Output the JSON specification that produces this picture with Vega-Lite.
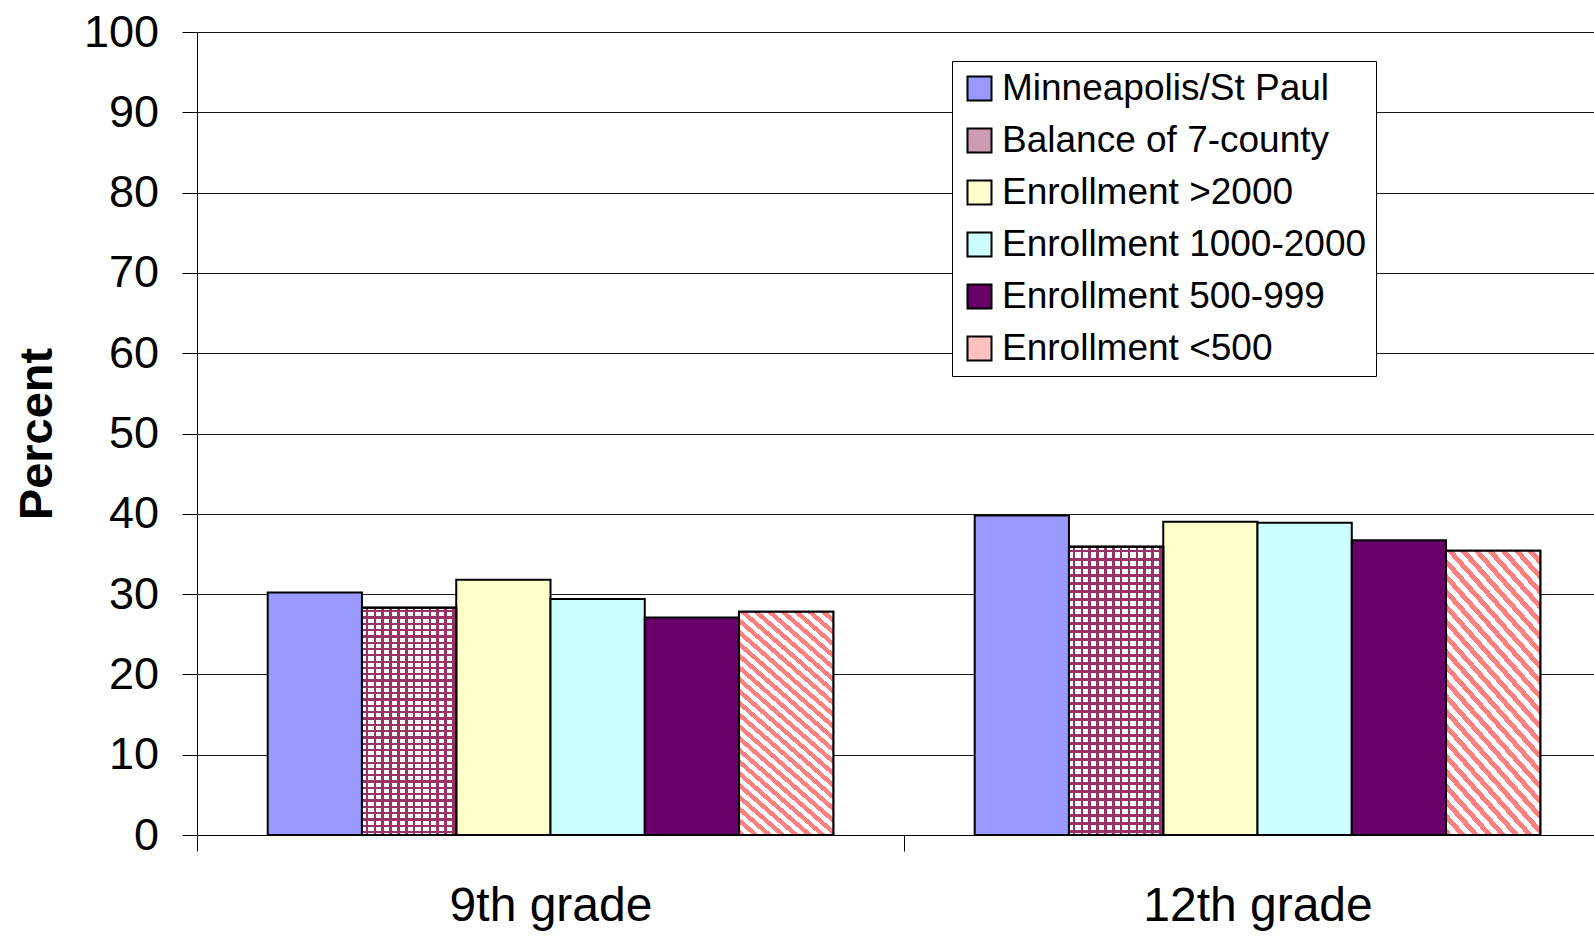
{
 "$schema": "https://vega.github.io/schema/vega-lite/v6.json",
 "width": 1397, "height": 803,
 "autosize": {"type": "none"},
 "padding": {"left": 197, "top": 32, "right": 0, "bottom": 101},
 "background": "white",
 "config": {"font": "Liberation Sans", "view": {"stroke": null}},
 "data": {"values": [
  {"grade": "9th grade", "series": "Minneapolis/St Paul", "value": 30.2},
  {"grade": "9th grade", "series": "Balance of 7-county", "value": 28.3},
  {"grade": "9th grade", "series": "Enrollment >2000", "value": 31.8},
  {"grade": "9th grade", "series": "Enrollment 1000-2000", "value": 29.4},
  {"grade": "9th grade", "series": "Enrollment 500-999", "value": 27.1},
  {"grade": "9th grade", "series": "Enrollment <500", "value": 27.8},
  {"grade": "12th grade", "series": "Minneapolis/St Paul", "value": 39.8},
  {"grade": "12th grade", "series": "Balance of 7-county", "value": 35.9},
  {"grade": "12th grade", "series": "Enrollment >2000", "value": 39.0},
  {"grade": "12th grade", "series": "Enrollment 1000-2000", "value": 38.9},
  {"grade": "12th grade", "series": "Enrollment 500-999", "value": 36.7},
  {"grade": "12th grade", "series": "Enrollment <500", "value": 35.4}
 ]},
 "encoding": {
  "x": {"field": "grade", "type": "nominal",
   "scale": {"domain": ["9th grade", "12th grade"], "range": [0, 1414], "paddingInner": 0, "paddingOuter": 0},
   "axis": {"title": null, "labelAngle": 0, "labelFont": "Liberation Sans", "labelFontSize": 48, "labelColor": "black", "labelLimit": 0,
    "tickBand": "extent", "tickSize": 16, "tickColor": "black", "tickWidth": 1, "domainColor": "black", "domainWidth": 1, "labelPadding": 31}},
  "xOffset": {"field": "series", "type": "nominal",
   "scale": {"domain": ["Minneapolis/St Paul", "Balance of 7-county", "Enrollment >2000", "Enrollment 1000-2000", "Enrollment 500-999", "Enrollment <500"], "paddingInner": 0, "paddingOuter": 0.75}},
  "y": {"field": "value", "type": "quantitative",
   "scale": {"domain": [0, 100], "nice": false},
   "axis": {"title": "Percent", "values": [0, 10, 20, 30, 40, 50, 60, 70, 80, 90, 100], "grid": true, "gridColor": "#1a1a1a", "gridWidth": 1,
    "domainColor": "black", "domainWidth": 1, "tickColor": "black", "tickSize": 15, "tickWidth": 1,
    "labelFont": "Liberation Sans", "labelFontSize": 45, "labelPadding": 23.5, "labelColor": "black",
    "titleFont": "Liberation Sans", "titleFontSize": 47, "titleFontWeight": "bold", "titlePadding": 22, "titleColor": "black"}}
 },
 "layer": [
  {
   "mark": {"type": "bar", "stroke": "black", "strokeWidth": 2},
   "encoding": {
    "fill": {"field": "series", "type": "nominal",
     "scale": {"domain": ["Minneapolis/St Paul", "Balance of 7-county", "Enrollment >2000", "Enrollment 1000-2000", "Enrollment 500-999", "Enrollment <500"],
      "range": ["#9999ff", "#cd9bb4", "#ffffcc", "#ccffff", "#660066", "#ffc0c0"]},
     "legend": {"title": null, "orient": "none", "legendX": 755, "legendY": 29, "direction": "vertical",
      "symbolType": "square", "symbolSize": 576, "symbolStrokeColor": "black", "symbolStrokeWidth": 2,
      "labelFont": "Liberation Sans", "labelFontSize": 37, "labelColor": "black", "labelLimit": 700, "labelOffset": 4,
      "rowPadding": 14, "padding": 9, "strokeColor": "black", "fillColor": "white"}}
   }
  },
  {
   "transform": [{"filter": "datum.series === 'Balance of 7-county'"}],
   "mark": {"type": "bar", "stroke": "black", "strokeWidth": 2, "fill": {"gradient": "linear", "x1": 0, "y1": 0, "x2": 1, "y2": 0, "stops": [
       {"offset": 0, "color": "#ffffff"},
       {"offset": 0.04, "color": "#ffffff"}, {"offset": 0.04, "color": "#993366"}, {"offset": 0.067, "color": "#993366"}, {"offset": 0.067, "color": "#ffffff"},
       {"offset": 0.1233, "color": "#ffffff"}, {"offset": 0.1233, "color": "#993366"}, {"offset": 0.1503, "color": "#993366"}, {"offset": 0.1503, "color": "#ffffff"},
       {"offset": 0.2067, "color": "#ffffff"}, {"offset": 0.2067, "color": "#993366"}, {"offset": 0.2337, "color": "#993366"}, {"offset": 0.2337, "color": "#ffffff"},
       {"offset": 0.29, "color": "#ffffff"}, {"offset": 0.29, "color": "#993366"}, {"offset": 0.317, "color": "#993366"}, {"offset": 0.317, "color": "#ffffff"},
       {"offset": 0.3733, "color": "#ffffff"}, {"offset": 0.3733, "color": "#993366"}, {"offset": 0.4003, "color": "#993366"}, {"offset": 0.4003, "color": "#ffffff"},
       {"offset": 0.4567, "color": "#ffffff"}, {"offset": 0.4567, "color": "#993366"}, {"offset": 0.4837, "color": "#993366"}, {"offset": 0.4837, "color": "#ffffff"},
       {"offset": 0.54, "color": "#ffffff"}, {"offset": 0.54, "color": "#993366"}, {"offset": 0.567, "color": "#993366"}, {"offset": 0.567, "color": "#ffffff"},
       {"offset": 0.6233, "color": "#ffffff"}, {"offset": 0.6233, "color": "#993366"}, {"offset": 0.6503, "color": "#993366"}, {"offset": 0.6503, "color": "#ffffff"},
       {"offset": 0.7067, "color": "#ffffff"}, {"offset": 0.7067, "color": "#993366"}, {"offset": 0.7337, "color": "#993366"}, {"offset": 0.7337, "color": "#ffffff"},
       {"offset": 0.79, "color": "#ffffff"}, {"offset": 0.79, "color": "#993366"}, {"offset": 0.817, "color": "#993366"}, {"offset": 0.817, "color": "#ffffff"},
       {"offset": 0.8733, "color": "#ffffff"}, {"offset": 0.8733, "color": "#993366"}, {"offset": 0.9003, "color": "#993366"}, {"offset": 0.9003, "color": "#ffffff"},
       {"offset": 0.9567, "color": "#ffffff"}, {"offset": 0.9567, "color": "#993366"}, {"offset": 0.9837, "color": "#993366"}, {"offset": 0.9837, "color": "#ffffff"},
       {"offset": 1, "color": "#ffffff"}]}}
  },
  {
   "transform": [{"filter": "datum.series === 'Enrollment <500'"}],
   "mark": {"type": "bar", "stroke": "black", "strokeWidth": 2, "fill": {"gradient": "linear", "x1": 0, "y1": 1, "x2": 0.446, "y2": -0.205, "stops": [
       {"offset": 0, "color": "#ff8080"}, {"offset": 0.0192, "color": "#ff8080"}, {"offset": 0.0192, "color": "#ffffff"}, {"offset": 0.0385, "color": "#ffffff"},
       {"offset": 0.0385, "color": "#ff8080"}, {"offset": 0.0577, "color": "#ff8080"}, {"offset": 0.0577, "color": "#ffffff"}, {"offset": 0.0769, "color": "#ffffff"},
       {"offset": 0.0769, "color": "#ff8080"}, {"offset": 0.0962, "color": "#ff8080"}, {"offset": 0.0962, "color": "#ffffff"}, {"offset": 0.1154, "color": "#ffffff"},
       {"offset": 0.1154, "color": "#ff8080"}, {"offset": 0.1346, "color": "#ff8080"}, {"offset": 0.1346, "color": "#ffffff"}, {"offset": 0.1538, "color": "#ffffff"},
       {"offset": 0.1538, "color": "#ff8080"}, {"offset": 0.1731, "color": "#ff8080"}, {"offset": 0.1731, "color": "#ffffff"}, {"offset": 0.1923, "color": "#ffffff"},
       {"offset": 0.1923, "color": "#ff8080"}, {"offset": 0.2115, "color": "#ff8080"}, {"offset": 0.2115, "color": "#ffffff"}, {"offset": 0.2308, "color": "#ffffff"},
       {"offset": 0.2308, "color": "#ff8080"}, {"offset": 0.25, "color": "#ff8080"}, {"offset": 0.25, "color": "#ffffff"}, {"offset": 0.2692, "color": "#ffffff"},
       {"offset": 0.2692, "color": "#ff8080"}, {"offset": 0.2885, "color": "#ff8080"}, {"offset": 0.2885, "color": "#ffffff"}, {"offset": 0.3077, "color": "#ffffff"},
       {"offset": 0.3077, "color": "#ff8080"}, {"offset": 0.3269, "color": "#ff8080"}, {"offset": 0.3269, "color": "#ffffff"}, {"offset": 0.3462, "color": "#ffffff"},
       {"offset": 0.3462, "color": "#ff8080"}, {"offset": 0.3654, "color": "#ff8080"}, {"offset": 0.3654, "color": "#ffffff"}, {"offset": 0.3846, "color": "#ffffff"},
       {"offset": 0.3846, "color": "#ff8080"}, {"offset": 0.4038, "color": "#ff8080"}, {"offset": 0.4038, "color": "#ffffff"}, {"offset": 0.4231, "color": "#ffffff"},
       {"offset": 0.4231, "color": "#ff8080"}, {"offset": 0.4423, "color": "#ff8080"}, {"offset": 0.4423, "color": "#ffffff"}, {"offset": 0.4615, "color": "#ffffff"},
       {"offset": 0.4615, "color": "#ff8080"}, {"offset": 0.4808, "color": "#ff8080"}, {"offset": 0.4808, "color": "#ffffff"}, {"offset": 0.5, "color": "#ffffff"},
       {"offset": 0.5, "color": "#ff8080"}, {"offset": 0.5192, "color": "#ff8080"}, {"offset": 0.5192, "color": "#ffffff"}, {"offset": 0.5385, "color": "#ffffff"},
       {"offset": 0.5385, "color": "#ff8080"}, {"offset": 0.5577, "color": "#ff8080"}, {"offset": 0.5577, "color": "#ffffff"}, {"offset": 0.5769, "color": "#ffffff"},
       {"offset": 0.5769, "color": "#ff8080"}, {"offset": 0.5962, "color": "#ff8080"}, {"offset": 0.5962, "color": "#ffffff"}, {"offset": 0.6154, "color": "#ffffff"},
       {"offset": 0.6154, "color": "#ff8080"}, {"offset": 0.6346, "color": "#ff8080"}, {"offset": 0.6346, "color": "#ffffff"}, {"offset": 0.6538, "color": "#ffffff"},
       {"offset": 0.6538, "color": "#ff8080"}, {"offset": 0.6731, "color": "#ff8080"}, {"offset": 0.6731, "color": "#ffffff"}, {"offset": 0.6923, "color": "#ffffff"},
       {"offset": 0.6923, "color": "#ff8080"}, {"offset": 0.7115, "color": "#ff8080"}, {"offset": 0.7115, "color": "#ffffff"}, {"offset": 0.7308, "color": "#ffffff"},
       {"offset": 0.7308, "color": "#ff8080"}, {"offset": 0.75, "color": "#ff8080"}, {"offset": 0.75, "color": "#ffffff"}, {"offset": 0.7692, "color": "#ffffff"},
       {"offset": 0.7692, "color": "#ff8080"}, {"offset": 0.7885, "color": "#ff8080"}, {"offset": 0.7885, "color": "#ffffff"}, {"offset": 0.8077, "color": "#ffffff"},
       {"offset": 0.8077, "color": "#ff8080"}, {"offset": 0.8269, "color": "#ff8080"}, {"offset": 0.8269, "color": "#ffffff"}, {"offset": 0.8462, "color": "#ffffff"},
       {"offset": 0.8462, "color": "#ff8080"}, {"offset": 0.8654, "color": "#ff8080"}, {"offset": 0.8654, "color": "#ffffff"}, {"offset": 0.8846, "color": "#ffffff"},
       {"offset": 0.8846, "color": "#ff8080"}, {"offset": 0.9038, "color": "#ff8080"}, {"offset": 0.9038, "color": "#ffffff"}, {"offset": 0.9231, "color": "#ffffff"},
       {"offset": 0.9231, "color": "#ff8080"}, {"offset": 0.9423, "color": "#ff8080"}, {"offset": 0.9423, "color": "#ffffff"}, {"offset": 0.9615, "color": "#ffffff"},
       {"offset": 0.9615, "color": "#ff8080"}, {"offset": 0.9808, "color": "#ff8080"}, {"offset": 0.9808, "color": "#ffffff"}, {"offset": 1, "color": "#ffffff"}]}}
  },
  {
   "transform": [{"filter": "datum.series === 'Balance of 7-county'"}],
   "mark": {"type": "bar", "stroke": "black", "strokeWidth": 2, "fill": {"gradient": "linear", "x1": 0, "y1": 0, "x2": 0, "y2": 1, "stops": [
    {"offset": 0.01, "color": "rgba(153,51,102,0)"}, {"offset": 0.01, "color": "#993366"}, {"offset": 0.02, "color": "#993366"}, {"offset": 0.02, "color": "rgba(153,51,102,0)"},
    {"offset": 0.0378, "color": "rgba(153,51,102,0)"}, {"offset": 0.0378, "color": "#993366"}, {"offset": 0.0478, "color": "#993366"}, {"offset": 0.0478, "color": "rgba(153,51,102,0)"},
    {"offset": 0.0656, "color": "rgba(153,51,102,0)"}, {"offset": 0.0656, "color": "#993366"}, {"offset": 0.0756, "color": "#993366"}, {"offset": 0.0756, "color": "rgba(153,51,102,0)"},
    {"offset": 0.0933, "color": "rgba(153,51,102,0)"}, {"offset": 0.0933, "color": "#993366"}, {"offset": 0.1033, "color": "#993366"}, {"offset": 0.1033, "color": "rgba(153,51,102,0)"},
    {"offset": 0.1211, "color": "rgba(153,51,102,0)"}, {"offset": 0.1211, "color": "#993366"}, {"offset": 0.1311, "color": "#993366"}, {"offset": 0.1311, "color": "rgba(153,51,102,0)"},
    {"offset": 0.1489, "color": "rgba(153,51,102,0)"}, {"offset": 0.1489, "color": "#993366"}, {"offset": 0.1589, "color": "#993366"}, {"offset": 0.1589, "color": "rgba(153,51,102,0)"},
    {"offset": 0.1767, "color": "rgba(153,51,102,0)"}, {"offset": 0.1767, "color": "#993366"}, {"offset": 0.1867, "color": "#993366"}, {"offset": 0.1867, "color": "rgba(153,51,102,0)"},
    {"offset": 0.2044, "color": "rgba(153,51,102,0)"}, {"offset": 0.2044, "color": "#993366"}, {"offset": 0.2144, "color": "#993366"}, {"offset": 0.2144, "color": "rgba(153,51,102,0)"},
    {"offset": 0.2322, "color": "rgba(153,51,102,0)"}, {"offset": 0.2322, "color": "#993366"}, {"offset": 0.2422, "color": "#993366"}, {"offset": 0.2422, "color": "rgba(153,51,102,0)"},
    {"offset": 0.26, "color": "rgba(153,51,102,0)"}, {"offset": 0.26, "color": "#993366"}, {"offset": 0.27, "color": "#993366"}, {"offset": 0.27, "color": "rgba(153,51,102,0)"},
    {"offset": 0.2878, "color": "rgba(153,51,102,0)"}, {"offset": 0.2878, "color": "#993366"}, {"offset": 0.2978, "color": "#993366"}, {"offset": 0.2978, "color": "rgba(153,51,102,0)"},
    {"offset": 0.3156, "color": "rgba(153,51,102,0)"}, {"offset": 0.3156, "color": "#993366"}, {"offset": 0.3256, "color": "#993366"}, {"offset": 0.3256, "color": "rgba(153,51,102,0)"},
    {"offset": 0.3433, "color": "rgba(153,51,102,0)"}, {"offset": 0.3433, "color": "#993366"}, {"offset": 0.3533, "color": "#993366"}, {"offset": 0.3533, "color": "rgba(153,51,102,0)"},
    {"offset": 0.3711, "color": "rgba(153,51,102,0)"}, {"offset": 0.3711, "color": "#993366"}, {"offset": 0.3811, "color": "#993366"}, {"offset": 0.3811, "color": "rgba(153,51,102,0)"},
    {"offset": 0.3989, "color": "rgba(153,51,102,0)"}, {"offset": 0.3989, "color": "#993366"}, {"offset": 0.4089, "color": "#993366"}, {"offset": 0.4089, "color": "rgba(153,51,102,0)"},
    {"offset": 0.4267, "color": "rgba(153,51,102,0)"}, {"offset": 0.4267, "color": "#993366"}, {"offset": 0.4367, "color": "#993366"}, {"offset": 0.4367, "color": "rgba(153,51,102,0)"},
    {"offset": 0.4544, "color": "rgba(153,51,102,0)"}, {"offset": 0.4544, "color": "#993366"}, {"offset": 0.4644, "color": "#993366"}, {"offset": 0.4644, "color": "rgba(153,51,102,0)"},
    {"offset": 0.4822, "color": "rgba(153,51,102,0)"}, {"offset": 0.4822, "color": "#993366"}, {"offset": 0.4922, "color": "#993366"}, {"offset": 0.4922, "color": "rgba(153,51,102,0)"},
    {"offset": 0.51, "color": "rgba(153,51,102,0)"}, {"offset": 0.51, "color": "#993366"}, {"offset": 0.52, "color": "#993366"}, {"offset": 0.52, "color": "rgba(153,51,102,0)"},
    {"offset": 0.5378, "color": "rgba(153,51,102,0)"}, {"offset": 0.5378, "color": "#993366"}, {"offset": 0.5478, "color": "#993366"}, {"offset": 0.5478, "color": "rgba(153,51,102,0)"},
    {"offset": 0.5656, "color": "rgba(153,51,102,0)"}, {"offset": 0.5656, "color": "#993366"}, {"offset": 0.5756, "color": "#993366"}, {"offset": 0.5756, "color": "rgba(153,51,102,0)"},
    {"offset": 0.5933, "color": "rgba(153,51,102,0)"}, {"offset": 0.5933, "color": "#993366"}, {"offset": 0.6033, "color": "#993366"}, {"offset": 0.6033, "color": "rgba(153,51,102,0)"},
    {"offset": 0.6211, "color": "rgba(153,51,102,0)"}, {"offset": 0.6211, "color": "#993366"}, {"offset": 0.6311, "color": "#993366"}, {"offset": 0.6311, "color": "rgba(153,51,102,0)"},
    {"offset": 0.6489, "color": "rgba(153,51,102,0)"}, {"offset": 0.6489, "color": "#993366"}, {"offset": 0.6589, "color": "#993366"}, {"offset": 0.6589, "color": "rgba(153,51,102,0)"},
    {"offset": 0.6767, "color": "rgba(153,51,102,0)"}, {"offset": 0.6767, "color": "#993366"}, {"offset": 0.6867, "color": "#993366"}, {"offset": 0.6867, "color": "rgba(153,51,102,0)"},
    {"offset": 0.7044, "color": "rgba(153,51,102,0)"}, {"offset": 0.7044, "color": "#993366"}, {"offset": 0.7144, "color": "#993366"}, {"offset": 0.7144, "color": "rgba(153,51,102,0)"},
    {"offset": 0.7322, "color": "rgba(153,51,102,0)"}, {"offset": 0.7322, "color": "#993366"}, {"offset": 0.7422, "color": "#993366"}, {"offset": 0.7422, "color": "rgba(153,51,102,0)"},
    {"offset": 0.76, "color": "rgba(153,51,102,0)"}, {"offset": 0.76, "color": "#993366"}, {"offset": 0.77, "color": "#993366"}, {"offset": 0.77, "color": "rgba(153,51,102,0)"},
    {"offset": 0.7878, "color": "rgba(153,51,102,0)"}, {"offset": 0.7878, "color": "#993366"}, {"offset": 0.7978, "color": "#993366"}, {"offset": 0.7978, "color": "rgba(153,51,102,0)"},
    {"offset": 0.8156, "color": "rgba(153,51,102,0)"}, {"offset": 0.8156, "color": "#993366"}, {"offset": 0.8256, "color": "#993366"}, {"offset": 0.8256, "color": "rgba(153,51,102,0)"},
    {"offset": 0.8433, "color": "rgba(153,51,102,0)"}, {"offset": 0.8433, "color": "#993366"}, {"offset": 0.8533, "color": "#993366"}, {"offset": 0.8533, "color": "rgba(153,51,102,0)"},
    {"offset": 0.8711, "color": "rgba(153,51,102,0)"}, {"offset": 0.8711, "color": "#993366"}, {"offset": 0.8811, "color": "#993366"}, {"offset": 0.8811, "color": "rgba(153,51,102,0)"},
    {"offset": 0.8989, "color": "rgba(153,51,102,0)"}, {"offset": 0.8989, "color": "#993366"}, {"offset": 0.9089, "color": "#993366"}, {"offset": 0.9089, "color": "rgba(153,51,102,0)"},
    {"offset": 0.9267, "color": "rgba(153,51,102,0)"}, {"offset": 0.9267, "color": "#993366"}, {"offset": 0.9367, "color": "#993366"}, {"offset": 0.9367, "color": "rgba(153,51,102,0)"},
    {"offset": 0.9544, "color": "rgba(153,51,102,0)"}, {"offset": 0.9544, "color": "#993366"}, {"offset": 0.9644, "color": "#993366"}, {"offset": 0.9644, "color": "rgba(153,51,102,0)"},
    {"offset": 0.9822, "color": "rgba(153,51,102,0)"}, {"offset": 0.9822, "color": "#993366"}, {"offset": 0.9922, "color": "#993366"}, {"offset": 0.9922, "color": "rgba(153,51,102,0)"}]}}
  }
 ]
}
